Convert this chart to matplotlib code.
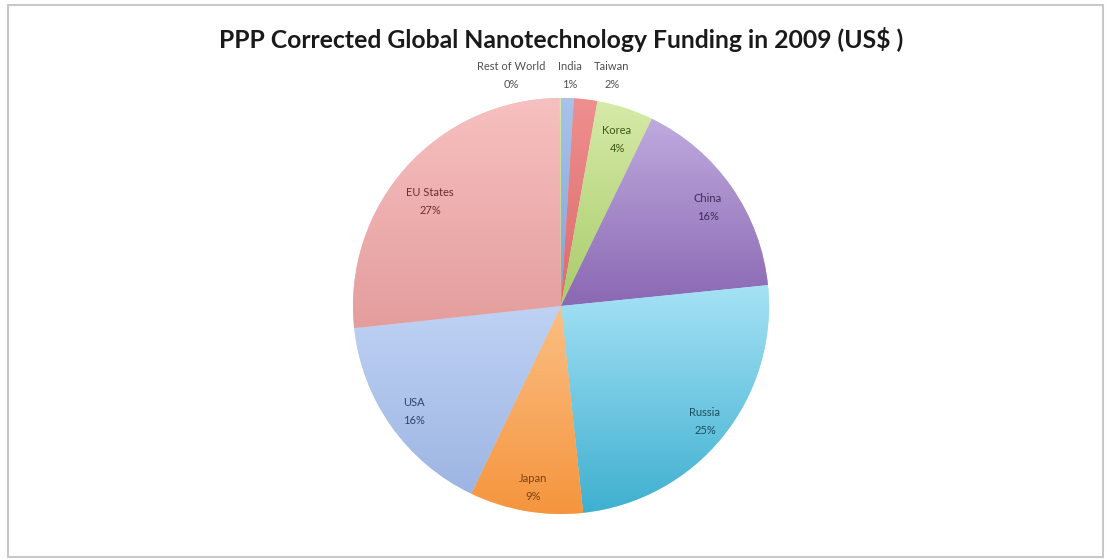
import numpy as np
import matplotlib
matplotlib.use("Agg")
import matplotlib.pyplot as plt
from matplotlib.patches import Rectangle
from matplotlib.colors import to_rgb

# ---- data ----
categories = ["India", "Taiwan", "Korea", "China", "Russia", "Japan", "USA", "EU States", "Rest of World"]
values = [1.0, 1.8, 4.4, 16.2, 24.9, 8.8, 16.2, 26.6, 0.1]
title = "PPP Corrected Global Nanotechnology Funding in 2009 (US$ )"

# gradient colours (top, bottom) per slice
top_colors = ["#a9c3ea", "#ef8f8f", "#d6eaa8", "#bfaade", "#a6e2f5", "#fbbf84", "#bfd2f4", "#f7c0c0", "#d6eaa8"]
bot_colors = ["#7fa3d8", "#dc6b6b", "#a9cc6a", "#8a68b3", "#3fb0d0", "#f5953e", "#9db5e2", "#e49d9d", "#a9cc6a"]
text_colors = ["#505050", "#505050", "#3d5a16", "#3f2b5c", "#1b4f5f", "#7a4310", "#2e4470", "#6e2e2e", "#505050"]

W, H = 1111, 559
fig = plt.figure(figsize=(W / 100, H / 100), dpi=100)
ax = fig.add_axes([0, 0, 1, 1])

cx, cy, R = 561, H - 306, 208
wedges, _ = ax.pie(values, center=(cx, cy), radius=R, startangle=90,
                   counterclock=False, frame=True,
                   wedgeprops=dict(linewidth=0, edgecolor="none"))

for w, tc, bc in zip(wedges, top_colors, bot_colors):
    w.set_facecolor(tc)
    th1, th2 = np.deg2rad(w.theta1), np.deg2rad(w.theta2)
    ts = np.linspace(th1, th2, 200)
    xs = np.concatenate([[cx], cx + R * np.cos(ts)])
    ys = np.concatenate([[cy], cy + R * np.sin(ts)])
    y0, y1 = ys.min(), ys.max()
    x0, x1 = xs.min(), xs.max()
    t = np.linspace(0, 1, 256)[:, None]
    c_top = np.array(to_rgb(tc)); c_bot = np.array(to_rgb(bc))
    grad = (c_top[None, :] * (1 - t) + c_bot[None, :] * t)[:, None, :]
    grad = np.repeat(grad, 2, axis=1)
    im = ax.imshow(grad, extent=(x0, x1, y0, y1), origin="upper", aspect="auto", zorder=2,
                   interpolation="bilinear")
    im.set_clip_path(w)

# label positions in pixel coordinates (x, y of name line)
label_px = {
    "India": (570, 67), "Taiwan": (612, 67), "Korea": (617, 130), "China": (708, 198),
    "Russia": (705, 412), "Japan": (533, 478), "USA": (414, 403), "EU States": (430, 193),
    "Rest of World": (511, 67),
}
total = sum(values)
for cat, v, col in zip(categories, values, text_colors):
    px, py = label_px[cat]
    pct = f"{round(v / total * 100):.0f}%"
    ax.text(px, H - py, cat, ha="center", va="center", fontsize=8, family="Lato",
            color=col, zorder=5)
    ax.text(px, H - py - 18, pct, ha="center", va="center", fontsize=8, family="Lato",
            color=col, zorder=5)

t = ax.text(561, H - 40, title, ha="center", va="center", fontsize=15, family="Lato",
            fontweight="bold", color="#1a1a1a", zorder=5)
fig.canvas.draw()
bb = t.get_window_extent()
t.set_fontsize(15 * 687 / bb.width)

ax.add_patch(Rectangle((8, H - 557), 1095, 552, fill=False, edgecolor="#c8c8c8", lw=1.5, zorder=6))

ax.set_xlim(0, W)
ax.set_ylim(0, H)
ax.set_aspect("auto")
ax.axis("off")
fig.savefig("out.png", dpi=100, facecolor="white")
